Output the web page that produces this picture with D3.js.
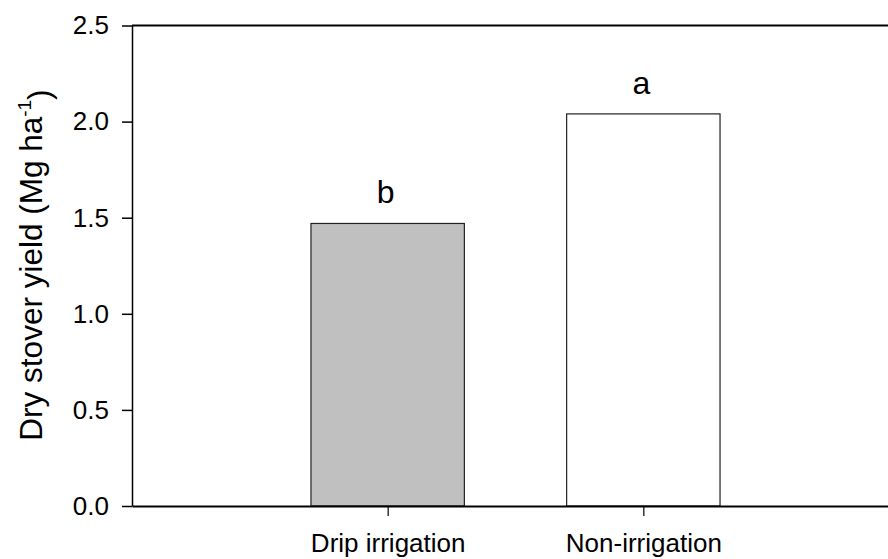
<!DOCTYPE html>
<html>
<head>
<meta charset="utf-8">
<script src="https://cdn.jsdelivr.net/npm/d3@7"></script>
<style>
    body { margin: 0; background: white; }
    svg { display: block; font-family: Arial, "Liberation Sans", sans-serif; }
</style>
</head>
<body>
<div id="chart"></div>
<script>
// data
const categories = ["Drip irrigation", "Non-irrigation"];
const yieldValues = [1.47, 2.04];
const letters = ["b", "a"];
const barColors = ["#c0c0c0", "#ffffff"];
const yTicks = [0, 0.5, 1.0, 1.5, 2.0, 2.5];

const largeur = 888,
    hauteur = 559;

const svg = d3.select("#chart").append("svg")
    .attr("width", largeur)
    .attr("height", hauteur);

// x goes 0..3, categories sit on 1 and 2, the right end runs past the window
const x = d3.scaleLinear().domain([0, 3]).range([132, 899]);
const y = d3.scaleLinear().domain([0, 2.5]).range([506, 25.5]);
const barW = (x(1) - x(0)) * 0.6;

// bars
svg.append("g")
    .selectAll("rect")
    .data(yieldValues)
    .enter()
    .append("rect")
    .attr("x", (d, i) => x(i + 1) - barW / 2)
    .attr("y", (d) => y(d))
    .attr("width", barW)
    .attr("height", (d) => y(0) - y(d))
    .attr("fill", (d, i) => barColors[i])
    .attr("stroke", "#222")
    .attr("stroke-width", 1.2);

// significance letters
svg.append("g")
    .selectAll("text")
    .data(yieldValues)
    .enter()
    .append("text")
    .text((d, i) => letters[i])
    .attr("x", (d, i) => x(i + 1) - 2)
    .attr("y", (d) => y(d) - 20)
    .style("text-anchor", "middle")
    .style("font-size", "32px");

// top frame line
svg.append("line")
    .attr("x1", x(0)).attr("x2", x(3))
    .attr("y1", y(2.5)).attr("y2", y(2.5))
    .attr("stroke", "black")
    .attr("stroke-width", 2);

// y axis
const yAxis = svg.append("g")
    .attr("transform", "translate(" + x(0) + ",0)")
    .call(d3.axisLeft(y).tickValues(yTicks).tickFormat(d3.format(".1f")).tickSize(10).tickSizeOuter(0).tickPadding(13));
yAxis.select(".domain").attr("stroke-width", 1.5);
yAxis.selectAll(".tick line").attr("stroke-width", 1.5);
yAxis.selectAll(".tick text")
    .attr("fill", "black")
    .style("font-size", "26px")
    .style("font-family", "Arial, 'Liberation Sans', sans-serif");

// x axis
const xAxis = svg.append("g")
    .attr("transform", "translate(0," + y(0) + ")")
    .call(d3.axisBottom(x).tickValues([1, 2]).tickFormat((d) => categories[d - 1]).tickSize(10).tickSizeOuter(0).tickPadding(18));
xAxis.select(".domain").attr("stroke-width", 2.2);
xAxis.selectAll(".tick line").attr("stroke-width", 1.2);
xAxis.selectAll(".tick text")
    .attr("fill", "black")
    .style("font-size", "26px")
    .style("font-family", "Arial, 'Liberation Sans', sans-serif");

// y axis title
const yTitle = svg.append("text")
    .attr("transform", "translate(42," + 265 + ") rotate(-90)")
    .style("text-anchor", "middle")
    .style("font-size", "31.5px");
yTitle.append("tspan").text("Dry stover yield (Mg ha");
yTitle.append("tspan").text("-1").attr("dy", "-0.6em").style("font-size", "19px");
yTitle.append("tspan").text(")").attr("dy", "0.6em");
</script>
</body>
</html>
